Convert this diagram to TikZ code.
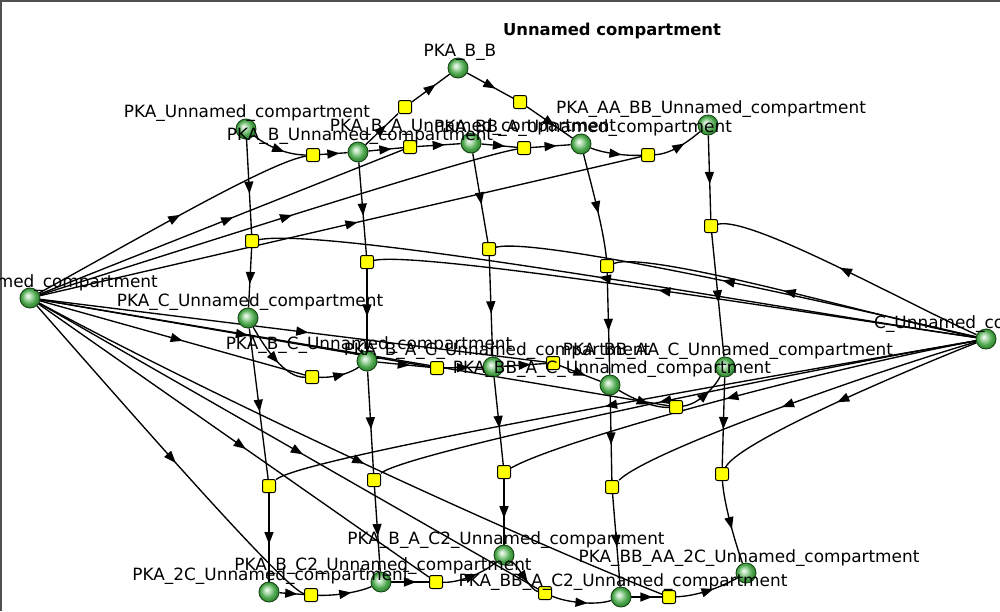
\documentclass[tikz,border=0pt]{standalone}
\usepackage{fontspec}
\setmainfont{DejaVu Sans}
\usetikzlibrary{decorations.markings,shadings}
\pgfdeclarelayer{bg}
\pgfsetlayers{bg,main}
\definecolor{gbA}{RGB}{250,253,250}
\definecolor{gbB}{RGB}{185,225,185}
\definecolor{gbC}{RGB}{75,165,75}
\definecolor{gbD}{RGB}{35,115,35}
\definecolor{gbE}{RGB}{22,85,22}
\pgfdeclareradialshading{greenball}{\pgfpoint{-6bp}{6bp}}{color(0bp)=(gbA); color(7bp)=(gbB); color(18bp)=(gbC); color(30bp)=(gbD); color(38bp)=(gbE)}
\definecolor{spedge}{RGB}{20,70,20}
\definecolor{rxyellow}{RGB}{255,255,0}
\definecolor{framegray}{RGB}{80,80,80}
\tikzset{
  species/.style={circle, minimum size=20pt, inner sep=0pt, shading=greenball, draw=spedge, line width=0.9pt},
  reaction/.style={rectangle, minimum size=13pt, inner sep=0pt, rounded corners=2pt, fill=rxyellow, draw=black, line width=1pt},
  lab/.style={anchor=base, inner sep=0pt, font=\fontsize{16.9}{20}\selectfont},
  edge/.style={line width=1.35pt, draw=black, postaction={decorate, decoration={markings, mark=at position 0.52 with {\fill[black] (-7pt,-4.7pt) -- (5pt,0pt) -- (-7pt,4.7pt) -- cycle;}}}},
}
\begin{document}
\begin{tikzpicture}[x=1pt,y=-1pt]
\useasboundingbox (0,0) rectangle (1000,611);
\clip (0,0) rectangle (1000,611);

\node[anchor=base, inner sep=0pt, font=\bfseries\fontsize{16.4}{20}\selectfont] (title) at (612,35) {Unnamed compartment};

% species
\node[species] (cAMP) at (30,298) {};
\node[species] (C) at (986,339) {};
\node[species] (PKA) at (246,129) {};
\node[species] (PKAB) at (358,152) {};
\node[species] (PKABA) at (471,143) {};
\node[species] (PKABB) at (458,68) {};
\node[species] (PKABBA) at (581,144) {};
\node[species] (PKAAABB) at (708,125) {};
\node[species] (PKAC) at (248,318) {};
\node[species] (PKABC) at (367,361) {};
\node[species] (PKABAC) at (493,367) {};
\node[species] (PKABBAC) at (610,385) {};
\node[species] (PKABBAAC) at (725,367) {};
\node[species] (PKA2C) at (269,592) {};
\node[species] (PKABC2) at (381,582) {};
\node[species] (PKABAC2) at (504,555) {};
\node[species] (PKABBAC2) at (621,597) {};
\node[species] (PKABBAA2C) at (746,573) {};

% reactions
\node[reaction] (r1) at (405,107) {};
\node[reaction] (r2) at (313,155) {};
\node[reaction] (r3) at (410,147) {};
\node[reaction] (r4) at (520,102) {};
\node[reaction] (r5) at (524,148) {};
\node[reaction] (r6) at (648,155) {};
\node[reaction] (rA) at (252,241) {};
\node[reaction] (rB) at (367,262) {};
\node[reaction] (rC) at (489,249) {};
\node[reaction] (rD) at (607,266) {};
\node[reaction] (rE) at (711,226) {};
\node[reaction] (rK) at (312,377) {};
\node[reaction] (rL) at (437,368) {};
\node[reaction] (rM) at (553,363) {};
\node[reaction] (rN) at (676,407) {};
\node[reaction] (rF) at (269,486) {};
\node[reaction] (rG) at (374,480) {};
\node[reaction] (rH) at (504,472) {};
\node[reaction] (rI) at (612,487) {};
\node[reaction] (rJ) at (722,474) {};
\node[reaction] (rX) at (311,595) {};
\node[reaction] (rY) at (436,582) {};
\node[reaction] (rZ) at (545,593) {};
\node[reaction] (rW) at (669,597) {};

\begin{pgfonlayer}{bg}
\fill[white] (0,0) rectangle (1000,611);
\draw[framegray, line width=2pt] (1,611) -- (1,1) -- (1000,1);
% top row
\draw[edge] (PKA) .. controls (268,147) and (288,155) .. (r2);
\draw[edge] (cAMP) .. controls (150,232) and (270,162) .. (r2);
\draw[edge] (r2) -- (PKAB);
\draw[edge] (PKAB) -- (r3);
\draw[edge] (cAMP) -- (r3);
\draw[edge] (r3) -- (PKABA);
\draw[edge] (PKAB) -- (r1);
\draw[edge] (r1) -- (PKABB);
\draw[edge] (PKABB) -- (r4);
\draw[edge] (r4) -- (PKABBA);
\draw[edge] (PKABA) -- (r5);
\draw[edge] (cAMP) .. controls (250,228) and (480,155) .. (r5);
\draw[edge] (r5) -- (PKABBA);
\draw[edge] (PKABBA) .. controls (603,153) and (625,156) .. (r6);
\draw[edge] (cAMP) -- (r6);
\draw[edge] (r6) .. controls (672,154) and (690,140) .. (PKAAABB);
% first C binding
\draw[edge] (PKA) -- (rA);
\draw[edge] (rA) -- (PKAC);
\draw[edge] (C) .. controls (800,312) and (330,226) .. (rA);
\draw[edge] (PKAB) -- (rB);
\draw[edge] (rB) -- (PKABC);
\draw[edge] (C) .. controls (820,315) and (420,250) .. (rB);
\draw[edge] (PKABA) -- (rC);
\draw[edge] (rC) -- (PKABAC);
\draw[edge] (C) .. controls (860,310) and (540,236) .. (rC);
\draw[edge] (PKABBA) .. controls (590,180) and (604,230) .. (rD);
\draw[edge] (rD) -- (PKABBAC);
\draw[edge] (C) .. controls (880,318) and (650,250) .. (rD);
\draw[edge] (PKAAABB) -- (rE);
\draw[edge] (rE) -- (PKABBAAC);
\draw[edge] (C) .. controls (900,300) and (750,216) .. (rE);
% middle row
\draw[edge] (PKAC) .. controls (265,348) and (285,378) .. (rK);
\draw[edge] (cAMP) -- (rK);
\draw[edge] (rK) .. controls (337,378) and (352,372) .. (PKABC);
\draw[edge] (PKABC) -- (rL);
\draw[edge] (cAMP) -- (rL);
\draw[edge] (rL) -- (PKABAC);
\draw[edge] (PKABAC) -- (rM);
\draw[edge] (cAMP) -- (rM);
\draw[edge] (rM) -- (PKABBAC);
\draw[edge] (PKABBAC) .. controls (635,400) and (655,408) .. (rN);
\draw[edge] (cAMP) -- (rN);
\draw[edge] (rN) .. controls (700,404) and (716,385) .. (PKABBAAC);
% second C binding
\draw[edge] (PKAC) -- (rF);
\draw[edge] (rF) -- (PKA2C);
\draw[edge] (C) .. controls (720,385) and (300,458) .. (rF);
\draw[edge] (PKABC) -- (rG);
\draw[edge] (rG) -- (PKABC2);
\draw[edge] (C) .. controls (750,380) and (400,455) .. (rG);
\draw[edge] (PKABAC) -- (rH);
\draw[edge] (rH) -- (PKABAC2);
\draw[edge] (C) .. controls (820,370) and (560,440) .. (rH);
\draw[edge] (PKABBAC) -- (rI);
\draw[edge] (rI) -- (PKABBAC2);
\draw[edge] (C) .. controls (880,370) and (650,450) .. (rI);
\draw[edge] (PKABBAAC) -- (rJ);
\draw[edge] (rJ) .. controls (724,505) and (736,545) .. (PKABBAA2C);
\draw[edge] (C) .. controls (920,365) and (740,440) .. (rJ);
% bottom row
\draw[edge] (PKA2C) -- (rX);
\draw[edge] (cAMP) .. controls (120,400) and (285,590) .. (rX);
\draw[edge] (rX) .. controls (335,596) and (360,592) .. (PKABC2);
\draw[edge] (PKABC2) -- (rY);
\draw[edge] (cAMP) -- (rY);
\draw[edge] (rY) .. controls (460,583) and (485,572) .. (PKABAC2);
\draw[edge] (PKABAC2) .. controls (520,568) and (530,590) .. (rZ);
\draw[edge] (cAMP) -- (rZ);
\draw[edge] (rZ) .. controls (565,602) and (595,606) .. (PKABBAC2);
\draw[edge] (PKABBAC2) -- (rW);
\draw[edge] (cAMP) .. controls (200,390) and (500,530) .. (rW);
\draw[edge] (rW) .. controls (700,596) and (725,585) .. (PKABBAA2C);
\end{pgfonlayer}

% labels
\node[lab] (lPKABB) at (460,56.5) {PKA\_B\_B};
\node[lab] (lPKA) at (247,117.5) {PKA\_Unnamed\_compartment};
\node[lab] (lPKAB) at (360,140) {PKA\_B\_Unnamed\_compartment};
\node[lab] (lPKABA) at (473,131.5) {PKA\_B\_A\_Unnamed\_compartment};
\node[lab] (lPKABBA) at (583,132.5) {PKA\_BB\_A\_Unnamed\_compartment};
\node[lab] (lPKAAABB) at (711,113.5) {PKA\_AA\_BB\_Unnamed\_compartment};
\node[lab, anchor=base west] (lC) at (874,328) {C\_Unnamed\_co};
\node[lab, anchor=base east] (lcAMP) at (158,287) {med\_compartment};
\node[lab] (lPKAC) at (250,306.5) {PKA\_C\_Unnamed\_compartment};
\node[lab] (lPKABC) at (369,349.5) {PKA\_B\_C\_Unnamed\_compartment};
\node[lab] (lPKABAC) at (497,355.5) {PKA\_B\_A\_C\_Unnamed\_compartment};
\node[lab] (lPKABBAC) at (612,373.5) {PKA\_BB\_A\_C\_Unnamed\_compartment};
\node[lab] (lPKABBAAC) at (728,355.5) {PKA\_BB\_AA\_C\_Unnamed\_compartment};
\node[lab] (lPKA2C) at (271,580) {PKA\_2C\_Unnamed\_compartment};
\node[lab] (lPKABC2) at (383,570) {PKA\_B\_C2\_Unnamed\_compartment};
\node[lab] (lPKABAC2) at (506,544) {PKA\_B\_A\_C2\_Unnamed\_compartment};
\node[lab] (lPKABBAC2) at (623,586) {PKA\_BB\_A\_C2\_Unnamed\_compartment};
\node[lab] (lPKABBAA2C) at (749,562) {PKA\_BB\_AA\_2C\_Unnamed\_compartment};
\end{tikzpicture}
\end{document}
